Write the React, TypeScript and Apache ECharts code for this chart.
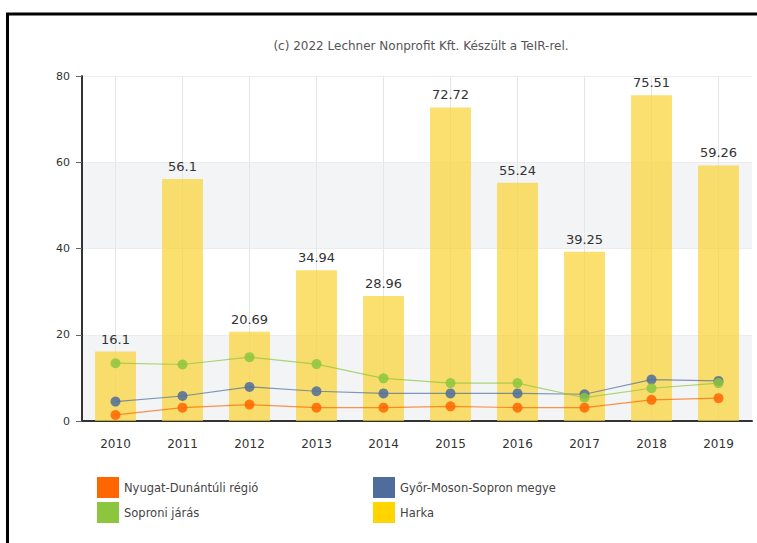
import React, { useEffect, useRef } from "react";
import * as echarts from "echarts";

const years = ["2010", "2011", "2012", "2013", "2014", "2015", "2016", "2017", "2018", "2019"];
const harka = [16.1, 56.1, 20.69, 34.94, 28.96, 72.72, 55.24, 39.25, 75.51, 59.26];
const nyugatDunantuli = [1.4, 3.1, 3.8, 3.1, 3.1, 3.4, 3.1, 3.1, 4.9, 5.3];
const gyorMosonSopron = [4.5, 5.8, 7.9, 6.9, 6.4, 6.4, 6.4, 6.2, 9.6, 9.3];
const soproniJaras = [13.4, 13.1, 14.8, 13.2, 9.9, 8.8, 8.8, 5.4, 7.6, 8.8];
const yTicks = [0, 20, 40, 60, 80];

const FONT = "DejaVu Sans";

export default function App() {
  const ref = useRef<HTMLDivElement>(null);
  useEffect(() => {
    if (!ref.current) return;
    const chart = echarts.init(ref.current, undefined, { renderer: "svg" });
    const lineSeries = (name: string, data: number[], color: string) => ({
      name,
      type: "line",
      data,
      symbol: "circle",
      symbolSize: 10,
      z: 3,
      lineStyle: { color, width: 1.2, opacity: 0.7 },
      itemStyle: { color, opacity: 0.85 },
    });
    const legendCommon = {
      orient: "vertical",
      top: 472,
      icon: "rect",
      itemWidth: 22,
      itemHeight: 21,
      itemGap: 4,
      itemStyle: { opacity: 1 },
      textStyle: { fontSize: 11.5, color: "#444", fontFamily: FONT },
      selectedMode: false,
    };
    chart.setOption({
      animation: false,
      title: {
        text: "(c) 2022 Lechner Nonprofit Kft. Készült a TeIR-rel.",
        left: 416,
        textAlign: "center",
        top: 35,
        textStyle: { fontSize: 12, fontWeight: "normal", color: "#555", fontFamily: FONT },
      },
      graphic: [
        {
          type: "line",
          shape: { x1: 6, y1: 14, x2: 760, y2: 14 },
          style: { stroke: "#000", lineWidth: 3 },
          silent: true,
        },
        {
          type: "line",
          shape: { x1: 7.5, y1: 13, x2: 7.5, y2: 545 },
          style: { stroke: "#000", lineWidth: 3 },
          silent: true,
        },
      ],
      grid: { left: 82, right: 5, top: 76, bottom: 122 },
      legend: [
        {
          ...legendCommon,
          data: ["Nyugat-Dunántúli régió", "Soproni járás"],
          left: 92,
        },
        {
          ...legendCommon,
          data: ["Győr-Moson-Sopron megye", { name: "Harka", itemStyle: { color: "#ffd400", opacity: 1 } }],
          left: 368,
        },
      ],
      xAxis: {
        type: "category",
        data: years,
        axisLine: { lineStyle: { color: "#333", width: 2 } },
        axisTick: { alignWithLabel: true, length: 6, lineStyle: { color: "#666" } },
        axisLabel: { fontSize: 12, color: "#333", margin: 17, fontFamily: FONT },
        splitLine: { show: true, alignWithLabel: true, lineStyle: { color: "#e6e6e6" } },
      },
      yAxis: {
        type: "value",
        min: 0,
        max: 80,
        interval: 20,
        axisLine: { show: true, lineStyle: { color: "#333", width: 2 } },
        axisTick: { show: true, length: 6, lineStyle: { color: "#666" } },
        axisLabel: {
          fontSize: 11,
          color: "#333",
          margin: 12,
          fontFamily: FONT,
          formatter: (v: number) => (yTicks.includes(v) ? String(v) : ""),
        },
        splitLine: { show: true, lineStyle: { color: "#ececec" } },
        splitArea: { show: true, areaStyle: { color: ["#f3f4f6", "#ffffff"] } },
      },
      series: [
        {
          name: "Harka",
          type: "bar",
          data: harka,
          barWidth: "61%",
          z: 2,
          itemStyle: { color: "rgba(250,210,50,0.7)" },
          label: {
            show: true,
            position: "top",
            fontSize: 13,
            color: "#333",
            fontFamily: FONT,
            distance: 6,
          },
        },
        lineSeries("Nyugat-Dunántúli régió", nyugatDunantuli, "#ff6600"),
        lineSeries("Győr-Moson-Sopron megye", gyorMosonSopron, "#4f6d9a"),
        lineSeries("Soproni járás", soproniJaras, "#8cc63f"),
      ],
      color: ["#ffd400", "#ff6600", "#4f6d9a", "#8cc63f"],
    });
    return () => chart.dispose();
  }, []);
  return (
    <div
      ref={ref}
      style={{ position: "fixed", left: 0, top: 0, width: 757, height: 543, background: "#fff" }}
    />
  );
}
